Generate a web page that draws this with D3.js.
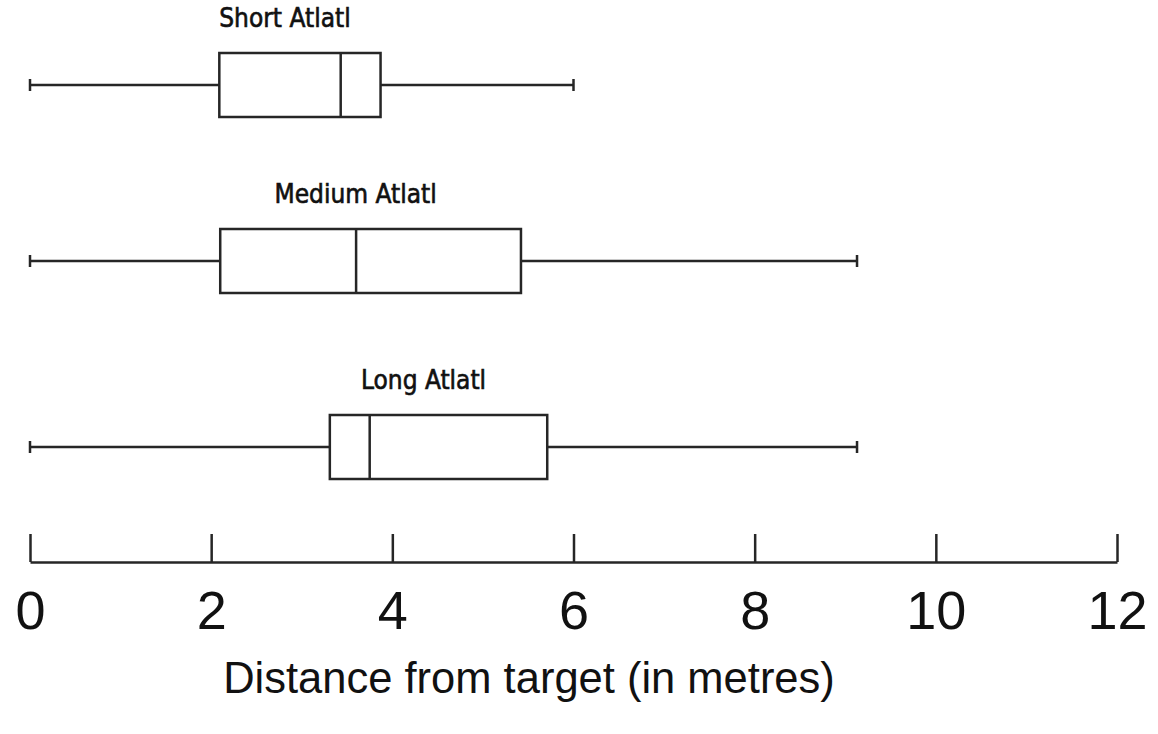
<!DOCTYPE html>
<html>
<head>
<meta charset="utf-8">
<script src="https://cdn.jsdelivr.net/npm/d3@7"></script>
<style>
  body { margin: 0; background: #fff; }
  .axis text { font-family: "Liberation Sans", Arial, sans-serif; }
</style>
</head>
<body>
<div id="chart"></div>
<script>
// box plot data (metres)
var categories = ["Short Atlatl", "Medium Atlatl", "Long Atlatl"];
var mins = [0, 0, 0];
var q1s = [2.09, 2.1, 3.31];
var medians = [3.43, 3.6, 3.75];
var q3s = [3.87, 5.42, 5.71];
var maxs = [6, 9.13, 9.13];
var tickValues = [0, 2, 4, 6, 8, 10, 12];
var axisTitle = "Distance from target (in metres)";

var svgWidth = 1158;
var svgHeight = 734;
var ink = "#262626";

var svg = d3.select("#chart")
  .append("svg")
  .attr("width", svgWidth)
  .attr("height", svgHeight);

var xScale = d3.scaleLinear()
  .domain([0, 12])
  .range([30, 1117]);

// rows are not quite evenly spaced in the original
var yScale = d3.scaleOrdinal()
  .domain(categories)
  .range([85, 261, 447]);

var boxes = categories.map(function(c, i) {
  return { name: c, min: mins[i], q1: q1s[i], med: medians[i], q3: q3s[i], max: maxs[i] };
});

var boxH = 64;
var capH = 12;

var g = svg.selectAll("g.box")
  .data(boxes)
  .enter()
  .append("g")
  .attr("class", "box");

// whiskers
g.append("line")
  .attr("x1", d => xScale(d.min))
  .attr("x2", d => xScale(d.q1))
  .attr("y1", d => yScale(d.name))
  .attr("y2", d => yScale(d.name))
  .attr("stroke", ink).attr("stroke-width", 2.5);

g.append("line")
  .attr("x1", d => xScale(d.q3))
  .attr("x2", d => xScale(d.max))
  .attr("y1", d => yScale(d.name))
  .attr("y2", d => yScale(d.name))
  .attr("stroke", ink).attr("stroke-width", 2.5);

// end caps
g.selectAll("line.cap")
  .data(d => [{ v: d.min, y: yScale(d.name) }, { v: d.max, y: yScale(d.name) }])
  .enter()
  .append("line")
  .attr("class", "cap")
  .attr("x1", d => xScale(d.v))
  .attr("x2", d => xScale(d.v))
  .attr("y1", d => d.y - capH / 2)
  .attr("y2", d => d.y + capH / 2)
  .attr("stroke", ink).attr("stroke-width", 2.5);

// box
g.append("rect")
  .attr("x", d => xScale(d.q1))
  .attr("y", d => yScale(d.name) - boxH / 2)
  .attr("width", d => xScale(d.q3) - xScale(d.q1))
  .attr("height", boxH)
  .attr("fill", "#fff")
  .attr("stroke", ink).attr("stroke-width", 2.5);

// median
g.append("line")
  .attr("x1", d => xScale(d.med))
  .attr("x2", d => xScale(d.med))
  .attr("y1", d => yScale(d.name) - boxH / 2)
  .attr("y2", d => yScale(d.name) + boxH / 2)
  .attr("stroke", ink).attr("stroke-width", 2.5);

// labels above each box
g.append("text")
  .attr("x", d => (xScale(d.q1) + xScale(d.q3)) / 2 - 15)
  .attr("y", d => yScale(d.name) - boxH / 2 - 26)
  .attr("text-anchor", "middle")
  .attr("font-family", "'DejaVu Sans Condensed', 'DejaVu Sans', sans-serif")
  .attr("font-stretch", "condensed")
  .attr("font-size", "26px")
  .attr("stroke", "#111")
  .attr("stroke-width", 0.6)
  .attr("fill", "#111")
  .text(d => d.name);

// x axis, ticks pointing up
var axis = d3.axisBottom(xScale)
  .tickValues(tickValues)
  .tickFormat(d3.format("d"))
  .tickSizeInner(-28)
  .tickSizeOuter(0)
  .tickPadding(29);

var axisG = svg.append("g")
  .attr("class", "axis")
  .attr("transform", "translate(0, 562)")
  .call(axis);

axisG.select(".domain").attr("stroke", ink).attr("stroke-width", 2.5);
axisG.selectAll(".tick line").attr("stroke", ink).attr("stroke-width", 2.5);
axisG.selectAll(".tick text")
  .attr("font-size", "54px")
  .attr("fill", "#111");

svg.append("text")
  .attr("x", 529)
  .attr("y", 693)
  .attr("text-anchor", "middle")
  .attr("font-family", "'Liberation Sans', Arial, sans-serif")
  .attr("font-size", "43.5px")
  .attr("fill", "#111")
  .text(axisTitle);
</script>
</body>
</html>
